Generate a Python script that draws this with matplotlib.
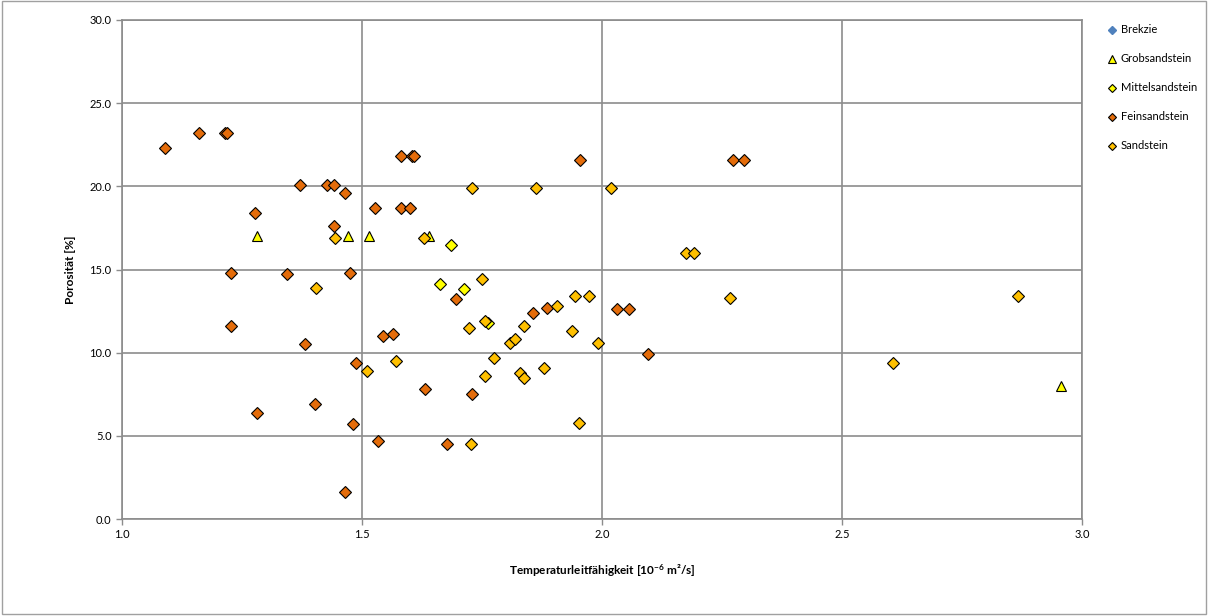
import matplotlib
matplotlib.use('Agg')
import matplotlib.pyplot as plt
from matplotlib.patches import Rectangle

plt.rcParams['font.family'] = ['Lato', 'DejaVu Sans']
plt.rcParams['mathtext.default'] = 'regular'

# Feinsandstein
fein_x = [1.090, 1.160, 1.215, 1.219, 1.277, 1.227, 1.227, 1.281, 1.371, 1.344, 1.381, 1.402,
          1.427, 1.442, 1.442, 1.465, 1.475, 1.488, 1.481, 1.527, 1.544, 1.565, 1.465, 1.533,
          1.581, 1.604, 1.608, 1.581, 1.600, 1.631, 1.696, 1.729, 1.677, 1.856, 1.885, 1.954,
          2.031, 2.056, 2.096, 2.273, 2.296]
fein_y = [22.3, 23.2, 23.2, 23.2, 18.4, 14.8, 11.6, 6.4, 20.1, 14.7, 10.5, 6.9,
          20.1, 20.1, 17.6, 19.6, 14.8, 9.4, 5.7, 18.7, 11.0, 11.1, 1.6, 4.7,
          21.8, 21.8, 21.8, 18.7, 18.7, 7.8, 13.2, 7.5, 4.5, 12.4, 12.7, 21.6,
          12.6, 12.6, 9.9, 21.6, 21.6]

# Sandstein
sand_x = [1.444, 1.404, 1.510, 1.571, 1.729, 1.863, 2.019, 1.629, 1.750, 1.944, 1.973,
          1.906, 1.723, 1.756, 1.838, 1.808, 1.819, 1.938, 1.992, 1.775, 1.756, 1.829,
          1.838, 1.879, 1.952, 1.727, 2.175, 2.192, 2.267, 2.606, 2.867]
sand_y = [16.9, 13.9, 8.9, 9.5, 19.9, 19.9, 19.9, 16.9, 14.4, 13.4, 13.4,
          12.8, 11.5, 11.9, 11.6, 10.6, 10.8, 11.3, 10.6, 9.7, 8.6, 8.8,
          8.5, 9.1, 5.8, 4.5, 16.0, 16.0, 13.3, 9.4, 13.4]

# Mittelsandstein
mittel_x = [1.663, 1.713, 1.685, 1.763]
mittel_y = [14.1, 13.8, 16.5, 11.8]

# Grobsandstein
grob_x = [1.281, 1.471, 1.515, 1.640, 2.956]
grob_y = [17.0, 17.0, 17.0, 17.0, 8.0]

# Brekzie (no points visible)
brek_x = []
brek_y = []

fig = plt.figure(figsize=(12.08, 6.16), dpi=100)
ax = fig.add_axes([122 / 1208, 1 - 519 / 616, 960 / 1208, 499 / 616])

ax.plot(brek_x, brek_y, 'D', color='#4F81BD', markersize=5, label='Brekzie')
ax.plot(grob_x, grob_y, '^', markerfacecolor='#FFFF00', markeredgecolor='black',
        markeredgewidth=0.8, markersize=7.5, linestyle='none', label='Grobsandstein')
ax.plot(mittel_x, mittel_y, 'D', markerfacecolor='#FFFF00', markeredgecolor='black',
        markeredgewidth=0.8, markersize=6, linestyle='none', label='Mittelsandstein')
ax.plot(fein_x, fein_y, 'D', markerfacecolor='#E46C0A', markeredgecolor='black',
        markeredgewidth=0.8, markersize=6, linestyle='none', label='Feinsandstein')
ax.plot(sand_x, sand_y, 'D', markerfacecolor='#FFC000', markeredgecolor='black',
        markeredgewidth=0.8, markersize=6, linestyle='none', label='Sandstein')

ax.set_xlim(1.0, 3.0)
ax.set_ylim(0, 30)
ax.set_xticks([1.0, 1.5, 2.0, 2.5, 3.0])
ax.set_yticks([0, 5, 10, 15, 20, 25, 30])
ax.set_xticklabels(['1.0', '1.5', '2.0', '2.5', '3.0'])
ax.set_yticklabels(['0.0', '5.0', '10.0', '15.0', '20.0', '25.0', '30.0'])
ax.grid(True, color='#8c8c8c', linewidth=1.2)
ax.set_axisbelow(True)
for s in ax.spines.values():
    s.set_color('#8c8c8c')
    s.set_linewidth(1.2)
ax.tick_params(colors='#8c8c8c', labelcolor='black', labelsize=8, length=4, width=1)

ax.set_xlabel('Temperaturleitfähigkeit [10$^{-6}$ m²/s]', fontsize=8.5, fontweight='bold', labelpad=16)
ax.set_ylabel('Porosität [%]', fontsize=8.5, fontweight='bold', labelpad=10)

fig.legend(loc='upper left', bbox_to_anchor=(1104 / 1208, 1 - 20 / 616), frameon=False,
           fontsize=8, labelspacing=1.62, handlelength=0.7, handletextpad=0.4,
           markerscale=0.75, borderaxespad=0)

fig.patches.append(Rectangle((0.002, 0.004), 0.996, 0.994, transform=fig.transFigure,
                             fill=False, edgecolor='#a0a0a0', linewidth=1))

fig.savefig('out.png', dpi=100)
